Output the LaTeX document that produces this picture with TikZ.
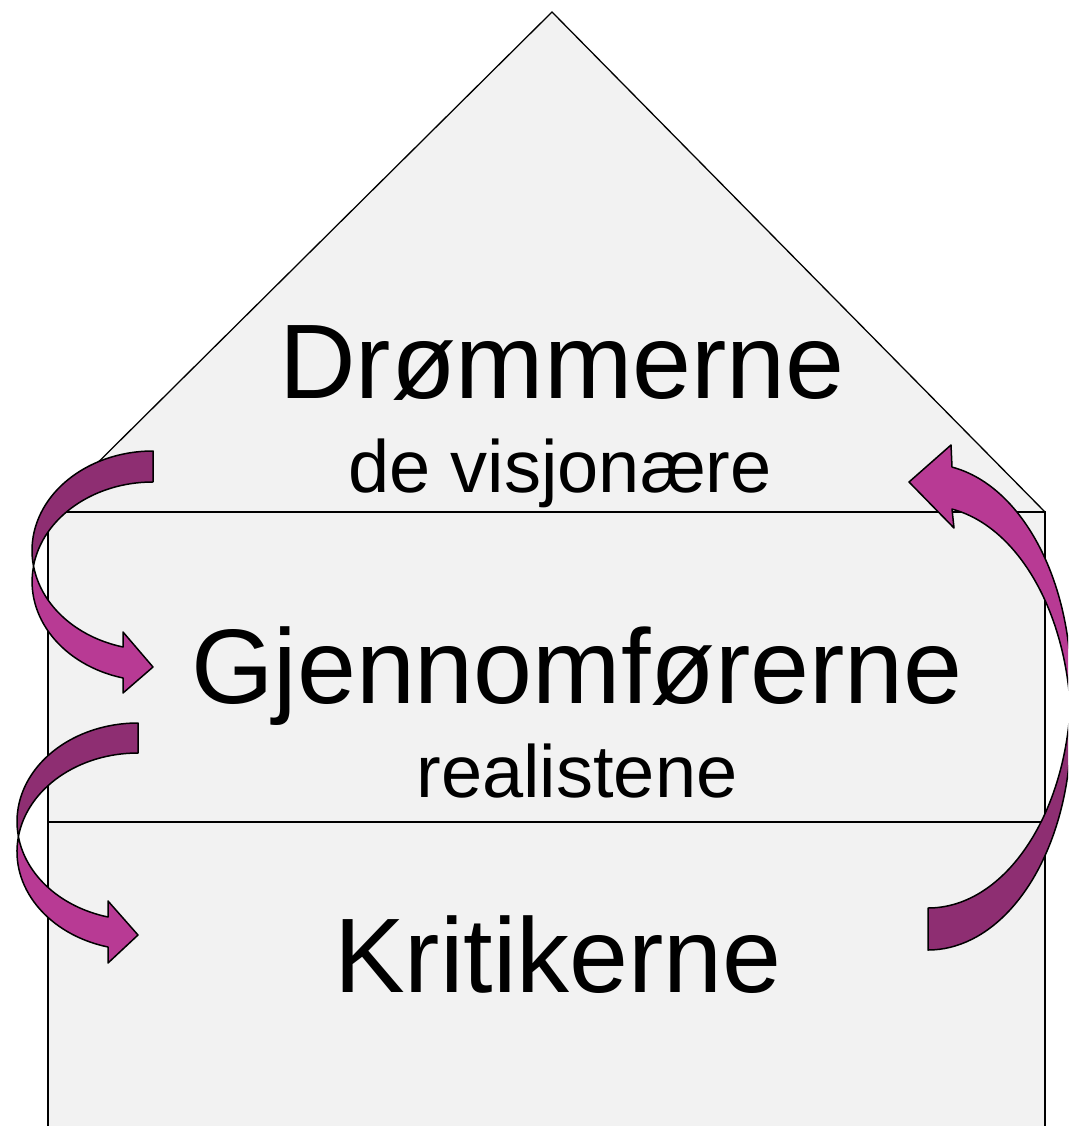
\documentclass[tikz,border=0pt]{standalone}
\usepackage{fontspec}
\setmainfont{Liberation Sans}
\usepackage{tikz}
\definecolor{wallgray}{HTML}{F2F2F2}
\definecolor{plumlight}{HTML}{B83A94}
\definecolor{plumdark}{HTML}{8E2E72}

\begin{document}
\begin{tikzpicture}[x=1pt, y=1pt, yscale=-1,
    wall/.style={draw=black, line width=1.6pt},
    band/.style={draw=black, line width=1.5pt, line join=round},
    back/.style={band, fill=plumdark},
    front/.style={band, fill=plumlight},
    big/.style={font=\fontsize{106}{110}\selectfont, anchor=base, inner sep=0pt},
    small/.style={font=\fontsize{74}{80}\selectfont, anchor=base, inner sep=0pt}]

  \useasboundingbox (0,0) rectangle (1068,1126);
  \clip (0,0) rectangle (1068,1126);

  % house
  \fill[wallgray] (48,1140) -- (48,512) -- (552,12) -- (1045,512) -- (1045,1140) -- cycle;
  \draw[wall, line width=1.3pt] (48,512) -- (552,12) -- (1045,512);
  \draw[wall] (48,1140) -- (48,512) -- (1045,512) -- (1045,1140);
  \draw[wall] (48,822) -- (1045,822);

  % dreamers -> doers
  \draw[back] (153,451) arc[start angle=270, end angle=171.04, x radius=121, y radius=99.5]
    arc[start angle=188.96, end angle=270, x radius=121, y radius=99.5] -- cycle;
  \draw[front] (123,647) arc[start angle=104.4, end angle=171.04, x radius=121, y radius=99.5]
    arc[start angle=188.96, end angle=104.4, x radius=121, y radius=99.5]
    -- (123,693) -- (153,667) -- (123,632) -- cycle;

  % doers -> critics
  \draw[back] (138,723) arc[start angle=270, end angle=171.24, x radius=121, y radius=98.5]
    arc[start angle=188.76, end angle=270, x radius=121, y radius=98.5] -- cycle;
  \draw[front] (108,917) arc[start angle=104.35, end angle=171.24, x radius=121, y radius=98.5]
    arc[start angle=188.76, end angle=104.35, x radius=121, y radius=98.5]
    -- (108,963) -- (138,935) -- (108,901) -- cycle;

  % critics -> dreamers
  \draw[back] (928,908) arc[start angle=90, end angle=5.43, x radius=143, y radius=222]
    arc[start angle=-5.43, end angle=90, x radius=143, y radius=222] -- cycle;
  \draw[front] (952,467.1) arc[start angle=279.66, end angle=365.43, x radius=143, y radius=222]
    arc[start angle=354.57, end angle=279.66, x radius=143, y radius=222]
    -- (954,528) -- (909,482) -- (951,445) -- cycle;

  \node[big] (dream) at (562,398) {Drømmerne};
  \node[small] (dreamsub) at (560,492) {de visjonære};
  \node[big] (doer) at (577,703) {Gjennomførerne};
  \node[small] (doersub) at (577,797) {realistene};
  \node[big] (critic) at (558,992) {Kritikerne};

\end{tikzpicture}
\end{document}
